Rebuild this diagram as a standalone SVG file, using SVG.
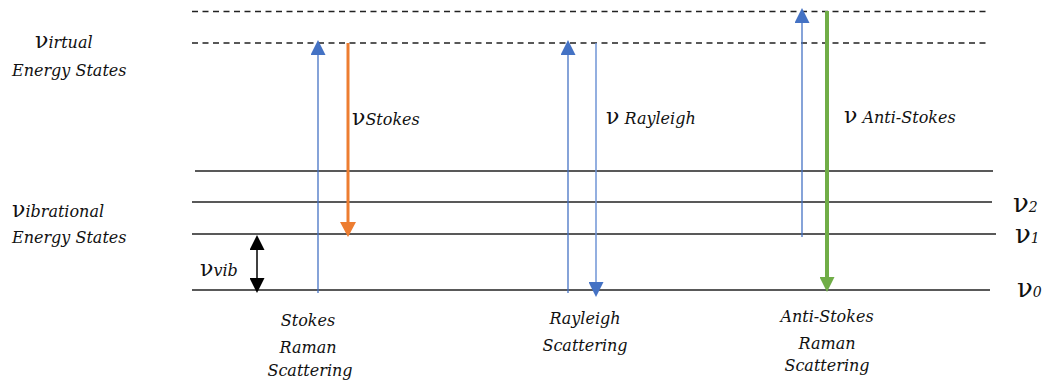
<svg xmlns="http://www.w3.org/2000/svg" width="1044" height="385" viewBox="0 0 1044 385">
<style>
.lvl{stroke:#222;stroke-width:1.5;fill:none}
.dash{stroke:#222;stroke-width:1.3;stroke-dasharray:6 4.5;fill:none}
.t{font-family:'DejaVu Serif',serif;font-style:italic;font-size:16px;fill:#111}
.nu{font-style:normal;font-size:22px}
.nub{font-style:normal;font-size:26px}
.c{text-anchor:middle}
</style>
<defs>
<marker id="hb" viewBox="0 0 15 15" markerWidth="15" markerHeight="15" refX="0" refY="7.5" orient="auto-start-reverse" markerUnits="userSpaceOnUse"><path d="M0,0 L15,7.5 L0,15 z" fill="#4472C4"/></marker>
<marker id="ho" viewBox="0 0 15 16" markerWidth="15" markerHeight="16" refX="0" refY="8" orient="auto" markerUnits="userSpaceOnUse"><path d="M0,0 L15,8 L0,16 z" fill="#ED7D31"/></marker>
<marker id="hg" viewBox="0 0 15 15" markerWidth="15" markerHeight="15" refX="0" refY="7.5" orient="auto" markerUnits="userSpaceOnUse"><path d="M0,0 L15,7.5 L0,15 z" fill="#70AD47"/></marker>
<marker id="hk" viewBox="0 0 15 15" markerWidth="15" markerHeight="15" refX="0" refY="7.5" orient="auto-start-reverse" markerUnits="userSpaceOnUse"><path d="M0,0 L15,7.5 L0,15 z" fill="#000"/></marker>
</defs>
<g id="levels">
<line class="dash" x1="192" y1="11.5" x2="990" y2="11.5"/>
<line class="dash" x1="192" y1="43" x2="990" y2="43"/>
<line class="lvl" x1="195" y1="171" x2="993" y2="171"/>
<line class="lvl" x1="192" y1="202" x2="992" y2="202"/>
<line class="lvl" x1="192" y1="234" x2="996" y2="234"/>
<line class="lvl" x1="192" y1="290" x2="990" y2="290"/>
</g>
<g id="connectors">
<line x1="318" y1="293" x2="318" y2="55" stroke="#4472C4" stroke-width="1.3" marker-end="url(#hb)"/>
<line x1="348" y1="43" x2="348" y2="222" stroke="#ED7D31" stroke-width="3" marker-end="url(#ho)"/>
<line x1="568" y1="293" x2="568" y2="55" stroke="#4472C4" stroke-width="1.3" marker-end="url(#hb)"/>
<line x1="596" y1="43" x2="596" y2="282" stroke="#6F95D6" stroke-width="1.5" marker-end="url(#hb)"/>
<line x1="802" y1="237" x2="802" y2="23" stroke="#4472C4" stroke-width="1.3" marker-end="url(#hb)"/>
<line x1="827" y1="11" x2="827" y2="277" stroke="#70AD47" stroke-width="4" marker-end="url(#hg)"/>
<line x1="257" y1="250" x2="257" y2="278" stroke="#000" stroke-width="1.5" marker-start="url(#hk)" marker-end="url(#hk)"/>
</g>
<g id="label-virtual">
<text class="t" x="35" y="48"><tspan class="nu">ν</tspan>irtual</text>
<text class="t" x="12" y="76">Energy States</text>
</g>
<g id="label-vibrational">
<text class="t" x="12" y="217"><tspan class="nu">ν</tspan>ibrational</text>
<text class="t" x="12" y="243">Energy States</text>
</g>
<g id="label-vib">
<text class="t" x="200" y="276"><tspan class="nu">ν</tspan>vib</text>
</g>
<g id="label-stokes">
<text class="t" x="352" y="125"><tspan class="nu">ν</tspan>Stokes</text>
</g>
<g id="label-rayleigh">
<text class="t" x="606" y="124"><tspan class="nu">ν</tspan> Rayleigh</text>
</g>
<g id="label-antistokes">
<text class="t" x="844" y="123"><tspan class="nu">ν</tspan> Anti-Stokes</text>
</g>
<g id="level-labels">
<text class="t" x="1013" y="212"><tspan class="nub">ν</tspan><tspan font-size="14">2</tspan></text>
<text class="t" x="1015" y="243"><tspan class="nub">ν</tspan><tspan font-size="14">1</tspan></text>
<text class="t" x="1017" y="297"><tspan class="nub">ν</tspan><tspan font-size="14">0</tspan></text>
</g>
<g id="caption-stokes">
<text class="t c" x="308" y="326">Stokes</text>
<text class="t c" x="308" y="353">Raman</text>
<text class="t c" x="310" y="376">Scattering</text>
</g>
<g id="caption-rayleigh">
<text class="t c" x="585" y="324">Rayleigh</text>
<text class="t c" x="585" y="351">Scattering</text>
</g>
<g id="caption-antistokes">
<text class="t c" x="827" y="322">Anti-Stokes</text>
<text class="t c" x="827" y="349">Raman</text>
<text class="t c" x="827" y="371">Scattering</text>
</g>
</svg>
